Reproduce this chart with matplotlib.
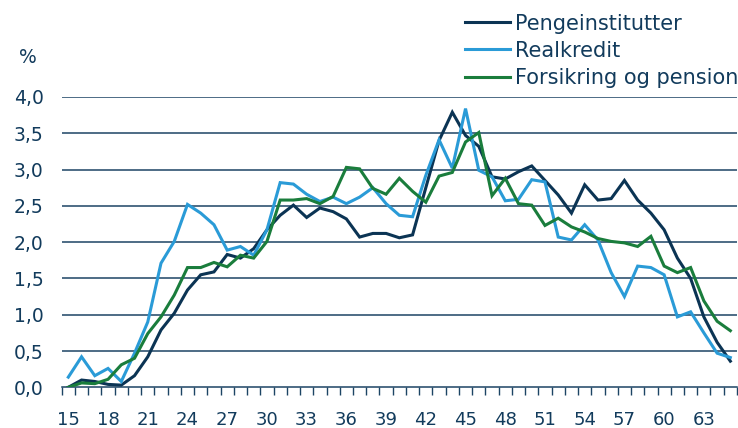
import numpy as np
import matplotlib
matplotlib.use("Agg")
import matplotlib.pyplot as plt
from matplotlib.ticker import FuncFormatter, FixedLocator

# data (alder 15-65)
alder = list(range(15, 66))

pengeinstitutter = [0.00, 0.10, 0.08, 0.04, 0.03, 0.16, 0.42, 0.79, 1.02, 1.34,
                    1.55, 1.59, 1.83, 1.78, 1.91, 2.17, 2.37, 2.51, 2.34, 2.47,
                    2.42, 2.32, 2.07, 2.12, 2.12, 2.06, 2.10, 2.75, 3.40, 3.79,
                    3.47, 3.32, 2.90, 2.87, 2.97, 3.05, 2.85, 2.65, 2.40, 2.79,
                    2.58, 2.60, 2.85, 2.58, 2.40, 2.17, 1.78, 1.50, 0.97, 0.62,
                    0.36]

realkredit = [0.14, 0.42, 0.16, 0.26, 0.08, 0.47, 0.90, 1.71, 2.01, 2.52,
              2.40, 2.24, 1.89, 1.94, 1.82, 2.17, 2.82, 2.80, 2.66, 2.56,
              2.62, 2.53, 2.62, 2.75, 2.53, 2.37, 2.35, 2.92, 3.41, 3.02,
              3.84, 2.99, 2.90, 2.57, 2.59, 2.86, 2.83, 2.07, 2.03, 2.24,
              2.03, 1.58, 1.25, 1.67, 1.65, 1.55, 0.97, 1.04, 0.75, 0.47,
              0.41]

forsikring = [0.00, 0.06, 0.05, 0.11, 0.31, 0.40, 0.74, 0.97, 1.27, 1.65,
              1.65, 1.72, 1.66, 1.82, 1.78, 2.01, 2.58, 2.58, 2.60, 2.53,
              2.63, 3.03, 3.01, 2.74, 2.66, 2.88, 2.70, 2.55, 2.91, 2.96,
              3.38, 3.51, 2.64, 2.88, 2.53, 2.51, 2.23, 2.33, 2.21, 2.14,
              2.05, 2.01, 1.99, 1.94, 2.08, 1.67, 1.58, 1.65, 1.19, 0.91,
              0.78]

navn = ["Pengeinstitutter", "Realkredit", "Forsikring og pension"]
farver = ["#0b3454", "#2a9bd7", "#1a7d3c"]
tekstfarve = "#123b5c"

plt.rcParams["font.family"] = "DejaVu Sans"

fig = plt.figure(figsize=(7.38, 4.28), dpi=100)
ax = fig.add_axes([0.0836, 0.0951, 0.915, 0.6783])

for serie, label, farve in zip([pengeinstitutter, realkredit, forsikring], navn, farver):
    ax.plot(alder, serie, color=farve, lw=2.2, label=label, solid_joinstyle="miter", zorder=3)

ax.set_xlim(14.5, 65.5)
ax.set_ylim(0, 4.0)

# gitterlinjer
ax.set_yticks(np.arange(0, 4.01, 0.5))
for y in np.arange(0.5, 4.01, 0.5):
    ax.axhline(y, color="#1c4464", lw=1.1, zorder=1)

ax.yaxis.set_major_formatter(FuncFormatter(lambda v, p: f"{v:.1f}".replace(".", ",")))
ax.tick_params(axis="y", length=0, pad=13, labelsize=13.5, labelcolor=tekstfarve)

ax.set_xticks(alder[::3])
ax.xaxis.set_minor_locator(FixedLocator(np.arange(14.5, 66, 1)))
ax.tick_params(axis="x", which="major", length=0, pad=17, labelsize=13, labelcolor=tekstfarve)
ax.tick_params(axis="x", which="minor", length=6, width=1, color="#1c4464", direction="out")

for side in ["top", "right", "left"]:
    ax.spines[side].set_visible(False)
ax.spines["bottom"].set_color("#1c4464")
ax.spines["bottom"].set_linewidth(1.1)

fig.text(0.038, 0.865, "%", fontsize=13.5, color=tekstfarve, va="center", ha="center")

leg = fig.legend(loc="upper left", bbox_to_anchor=(0.630, 0.968), frameon=False,
                 fontsize=15, handlelength=2.15, handletextpad=0.25, labelspacing=0.34,
                 borderpad=0, borderaxespad=0)
for t in leg.get_texts():
    t.set_color(tekstfarve)

fig.savefig("out.png", dpi=100)
